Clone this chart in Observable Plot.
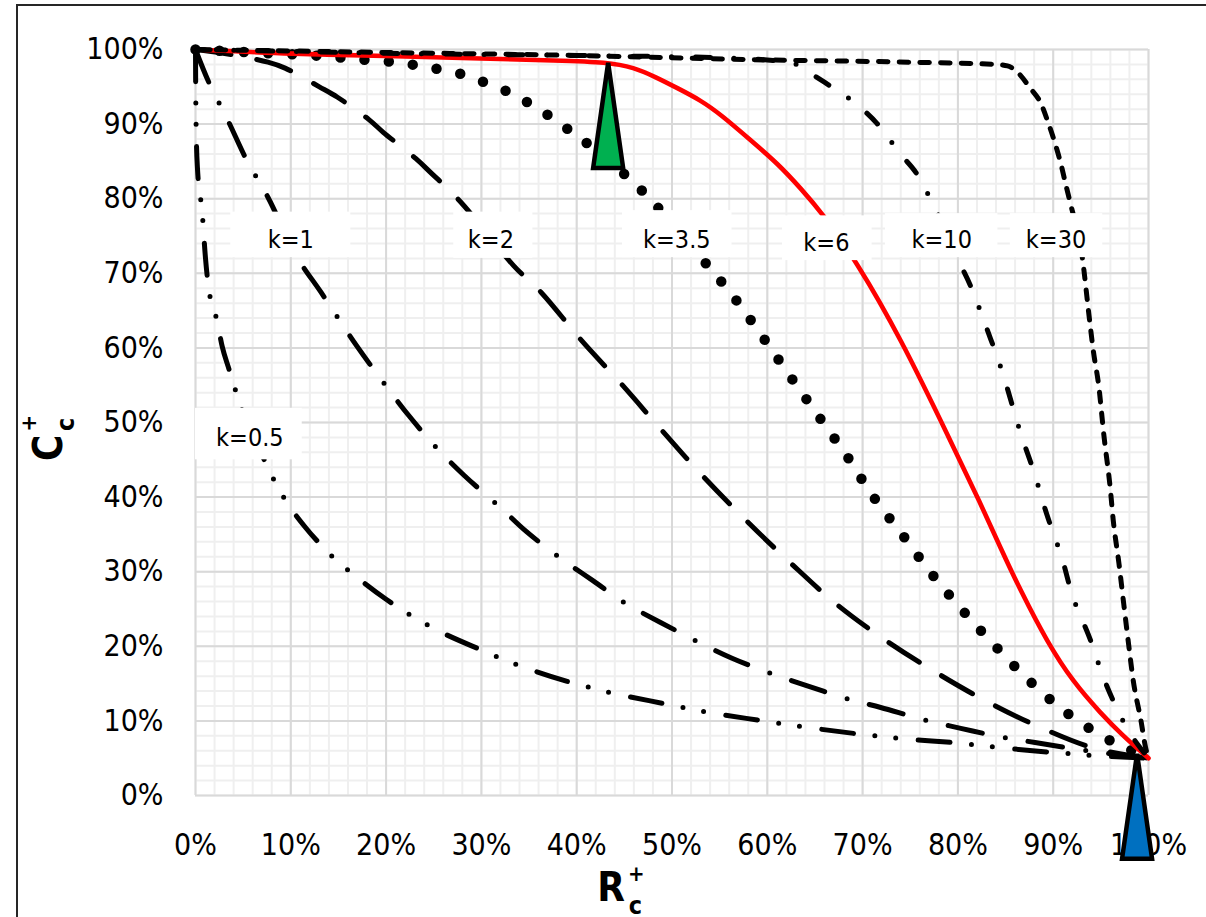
<!DOCTYPE html>
<html>
<head>
<meta charset="utf-8">
<script src="https://cdn.jsdelivr.net/npm/d3@7"></script>
<script src="https://cdn.jsdelivr.net/npm/@observablehq/plot@0.6"></script>
<style>
  body { margin: 0; background: #fff; }
  #wrap { position: relative; width: 1206px; height: 917px; overflow: hidden; }
  #frame { position: absolute; left: 16px; top: 4px; width: 1400px; height: 1200px;
           border-left: 2px solid #262626; border-top: 2px solid #262626; }
  #chart { position: absolute; left: 0; top: 0; }
</style>
</head>
<body>
<div id="wrap">
  <div id="frame"></div>
  <div id="chart"></div>
</div>
<script>
// ---- Tick values (percent) ----
const xTicks = [0, 10, 20, 30, 40, 50, 60, 70, 80, 90, 100];
const yTicks = [0, 10, 20, 30, 40, 50, 60, 70, 80, 90, 100];

// ---- Axis titles ----
const yTitle = {main: "C", sub: "c", sup: "+"};
const xTitle = {main: "R", sub: "c", sup: "+"};

// ---- Series: R_c+ (%) and C_c+ (%) ----
const k05R = [0, 0.02, 0.05, 0.1, 0.2, 0.7, 1.05, 1.3, 2.3, 2.8, 3.5, 4.2, 4.9, 6.5, 7.8, 9, 11.5, 13, 14.7, 16.4, 20, 25, 30, 33.2, 39, 43.2, 49.2, 53.5, 59.6, 63.8, 69.9, 74.2, 80.3, 84.6, 90.7, 95, 100];
const k05C = [100, 95, 91, 87.5, 84.2, 78.2, 72, 68.8, 63.4, 60.2, 57.2, 54.3, 51.6, 47, 43.4, 40.5, 36, 33.8, 31.6, 29.8, 26.3, 22.4, 19.5, 17.8, 15.3, 13.9, 12.3, 11.2, 10, 9.2, 8.2, 7.6, 7, 6.4, 5.7, 5.3, 5];

const k1R = [0, 1.4, 3.4, 5.4, 7.6, 10.7, 13.2, 16.9, 19.7, 22.4, 25.3, 28.2, 32, 34.7, 38.2, 41.7, 45.2, 48.8, 52.7, 56.3, 60.3, 64.2, 68.3, 71.9, 76.3, 80.3, 84.3, 88.1, 92, 96, 100];
const k1C = [100, 95.6, 90.5, 85.1, 80.2, 72.1, 67.4, 60.3, 55.4, 50.9, 46.6, 42.9, 38.6, 35.4, 31.9, 28.8, 25.7, 23.2, 20.6, 18.4, 16.4, 14.7, 13, 11.8, 10.2, 9, 7.9, 7.1, 6.3, 5.6, 5];

const k2R = [0, 2.9, 7.6, 9.4, 13, 14.9, 18.2, 19.7, 23.1, 24.6, 27.8, 33.4, 36.3, 40.5, 44.8, 49.1, 53.4, 58, 62.5, 67.3, 72.3, 77.7, 82.9, 88.7, 94.4, 100];
const k2C = [100, 99.5, 98.3, 97.5, 95, 93.6, 90.6, 88.9, 85.4, 83.6, 79.6, 71, 67.4, 61, 55, 48.7, 42.6, 36.6, 31.1, 25.6, 20.9, 16.5, 12.7, 9.1, 6.3, 5];

const k35R = [0, 7.7, 12.4, 17.1, 21.7, 23.9, 26.2, 28.5, 30.7, 33, 35, 37, 39.1, 41.1, 44.8, 46.6, 48.4, 53.3, 56.5, 59.5, 62.4, 65.4, 68.3, 71.1, 74.2, 77.2, 80.5, 83.8, 87.4, 91.1, 95.2, 97.3, 100];
const k35C = [100, 99.5, 99.2, 98.7, 98.2, 97.7, 97.2, 96.5, 95.4, 94.2, 92.8, 91.2, 89.3, 87.4, 83.5, 81.4, 79, 71.7, 66.8, 61.5, 56.2, 50.8, 45.6, 40.1, 34.9, 29.8, 24.8, 20.2, 15.5, 11.4, 7.9, 6.6, 5];

const k6R = [0, 10, 21.5, 30, 38, 43.2, 46.0, 48.3, 50.6, 53.0, 55.1, 58.2, 61.1, 63.5, 65.8, 69.3, 74.0, 79.2, 82.4, 84.5, 86.6, 89.4, 92.1, 95.0, 97.4, 99.2, 100];
const k6C = [100, 99.4, 99.1, 98.8, 98.5, 98.3, 97.6, 96.3, 94.8, 93.2, 91.3, 87.9, 84.7, 81.4, 78.0, 71.7, 61.3, 47.6, 39.1, 33.1, 27.4, 20.5, 15.2, 11.0, 7.9, 5.9, 5];

const k10R = [0, 20, 40, 55, 60, 62, 63.5, 64.7, 66.5, 68.4, 69.9, 71.5, 72.9, 74.1, 75.6, 77.6, 79.8, 81.4, 83, 84.6, 86.6, 88, 89.3, 90.9, 92.1, 93.8, 95.4, 97.2, 98.5, 100];
const k10C = [100, 99.5, 99.2, 98.9, 98.6, 98.3, 97.8, 96.7, 95.2, 93.6, 92.1, 90.1, 87.8, 85.8, 83.5, 78.7, 72.4, 68.1, 62.7, 57, 48.5, 43.3, 37.8, 31.9, 26.5, 21.2, 15.4, 10.3, 7.5, 5];

const k30R = [0, 20, 40, 60, 75, 84, 85.2, 86.3, 87.6, 88.7, 89.5, 90.2, 90.8, 91.3, 91.8, 93.1, 93.7, 94.2, 94.8, 95.3, 96, 96.3, 96.9, 97.4, 97.9, 98.4, 99.2, 99.7, 100];
const k30C = [100, 99.6, 99.2, 98.6, 98.3, 98.0, 97.8, 96.9, 94.8, 92.8, 90.1, 87.4, 84.7, 82, 79.4, 71.7, 65, 59.7, 54.7, 48.5, 41, 36.9, 31.1, 25.7, 20.4, 15.4, 10.1, 6.4, 5];

// ---- Curve labels (text, centre, white box extents), in data units (%) ----
const labelText = ["k=0.5", "k=1", "k=2", "k=3.5", "k=6", "k=10", "k=30"];
const labelR    = [5.7, 10.0, 31.0, 50.5, 66.2, 78.3, 90.3];
const labelC    = [47.9, 74.4, 74.4, 74.4, 74.0, 74.4, 74.4];
const boxR1     = [0.0, 3.7, 27.1, 44.8, 61.6, 72.4, 85.5];
const boxR2     = [11.2, 16.3, 35.4, 56.3, 71.0, 84.2, 95.2];
const boxC1     = [45.0, 72.1, 72.0, 72.1, 71.7, 72.1, 72.1];
const boxC2     = [51.9, 78.2, 78.2, 78.4, 77.7, 78.0, 78.0];

// ---- Marker triangles (apex points) ----
const markerR = [43.3, 98.8];
const markerC = [98.2, 5.6];
const markerFill = ["#00b050", "#0070c0"];

// ---- Build tables ----
const toRows = (R, C) => R.map((r, i) => ({R: r, C: C[i]}));
const seriesSpecs = [
  {rows: toRows(k05R, k05C), stroke: "#000", width: 5, dash: "32 21.5 0 21 0 22.5", curve: "monotone-x"},
  {rows: toRows(k1R, k1C), stroke: "#000", width: 5, dash: "35 23.5 0 23", curve: "catmull-rom"},
  {rows: toRows(k2R, k2C), stroke: "#000", width: 5, dash: "36 26", curve: "catmull-rom"},
  {rows: toRows(k35R, k35C), stroke: "#000", width: 10.5, dash: "0 24.2", curve: "catmull-rom"},
  {rows: toRows(k6R, k6C), stroke: "#ff0000", width: 4.6, dash: null, curve: "basis"},
  {rows: toRows(k10R, k10C), stroke: "#000", width: 5, dash: "15 23.5 0 24", curve: "catmull-rom"},
  {rows: toRows(k30R, k30C), stroke: "#000", width: 5, dash: "9.5 11.2", curve: "monotone-x"}
];
const labels = labelText.map((t, i) => ({t, R: labelR[i], C: labelC[i], r1: boxR1[i], r2: boxR2[i], c1: boxC1[i], c2: boxC2[i]}));
const markers = markerR.map((r, i) => ({R: r, C: markerC[i], fill: markerFill[i]}));

const minorX = d3.range(0, 101, 2);
const minorY = d3.range(0, 101, 2);

const tallTriangle = {
  draw(ctx) {
    ctx.moveTo(0, 0);
    ctx.lineTo(15, 105);
    ctx.lineTo(-15, 105);
    ctx.closePath();
  }
};

const pct = d => d + "%";
const FONT = '"DejaVu Sans Condensed", "DejaVu Sans", sans-serif';

const chart = Plot.plot({
  width: 1206,
  height: 917,
  marginLeft: 195,
  marginRight: 58,
  marginTop: 49,
  marginBottom: 122,
  style: {
    fontFamily: FONT,
    fontSize: "30px",
    color: "#000",
    background: "transparent",
    overflow: "visible"
  },
  x: {domain: [0, 100], ticks: xTicks, tickFormat: pct, tickSize: 0, tickPadding: 38, label: null},
  y: {domain: [0, 100], ticks: yTicks, tickFormat: pct, tickSize: 0, tickPadding: 32, label: null},
  marks: [
    Plot.ruleX(minorX, {stroke: "#efefef", strokeWidth: 2}),
    Plot.ruleY(minorY, {stroke: "#efefef", strokeWidth: 2}),
    Plot.ruleX(xTicks, {stroke: "#d9d9d9", strokeWidth: 2}),
    Plot.ruleY(yTicks, {stroke: "#d9d9d9", strokeWidth: 2}),
    ...seriesSpecs.map(s => Plot.line(s.rows, {
      x: "R", y: "C",
      stroke: s.stroke,
      strokeWidth: s.width,
      strokeDasharray: s.dash ?? undefined,
      strokeLinecap: "round",
      curve: s.curve
    })),
    Plot.rect(labels, {x1: "r1", x2: "r2", y1: "c1", y2: "c2", fill: "white"}),
    Plot.text(labels, {x: "R", y: "C", text: "t", fontSize: 25, fill: "#000"}),
    Plot.dot(markers, {x: "R", y: "C", symbol: tallTriangle, fill: "fill", stroke: "#000", strokeWidth: 4.5, strokeLinejoin: "miter"})
  ]
});

// ---- Axis titles: one text element each, with stacked super/subscript tspans ----
const svg = d3.select(chart);
function addTitle(g, t, supDy, subDy) {
  const txt = g.append("text").attr("x", 0).attr("y", 0)
    .attr("font-size", 40).attr("font-weight", "bold").attr("fill", "#000");
  txt.append("tspan").text(t.main);
  txt.append("tspan").attr("dx", 3).attr("dy", supDy).attr("font-size", 22).text(t.sup);
  txt.append("tspan").attr("dx", -16).attr("dy", subDy).attr("font-size", 25).text(t.sub);
}
const gy = svg.append("g").attr("font-family", FONT).attr("transform", "translate(62,438) rotate(-90)");
addTitle(gy, yTitle, -26, 38);
const gx = svg.append("g").attr("font-family", FONT).attr("transform", "translate(621,901)");
addTitle(gx, xTitle, -20, 33);

document.getElementById("chart").appendChild(chart);
</script>
</body>
</html>
